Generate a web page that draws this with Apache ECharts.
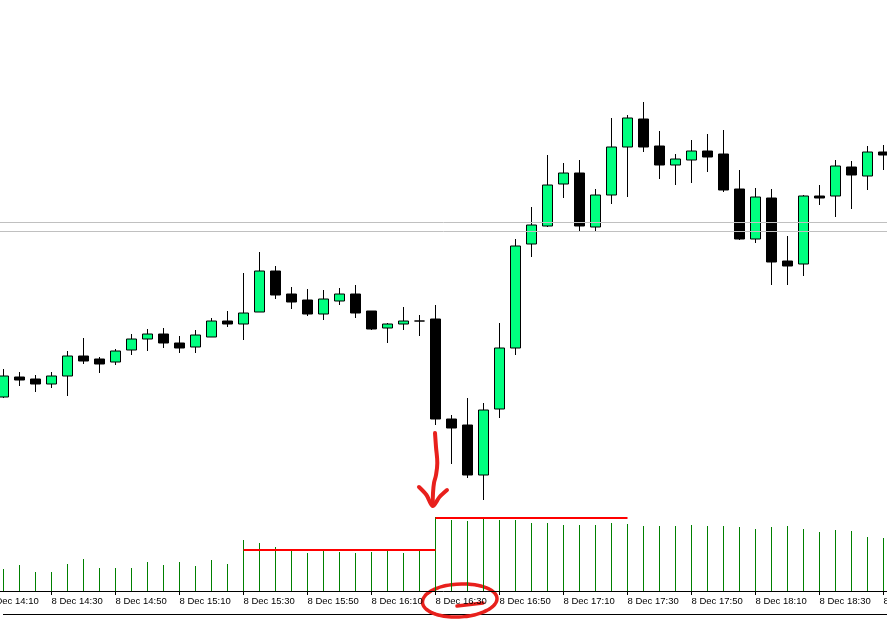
<!DOCTYPE html>
<html><head><meta charset="utf-8">
<script src="https://cdn.jsdelivr.net/npm/echarts@6/dist/echarts.min.js"></script>
<style>html,body{margin:0;padding:0;background:#fff;overflow:hidden}#c{width:887px;height:624px}</style>
</head><body><div id="c"></div>
<script>
// 5-minute bars, 8 Dec (first slot 14:10 is off-screen, no data drawn)
const times = ['14:10','14:15','14:20','14:25','14:30','14:35','14:40','14:45','14:50','14:55',
  '15:00','15:05','15:10','15:15','15:20','15:25','15:30','15:35','15:40','15:45','15:50','15:55',
  '16:00','16:05','16:10','16:15','16:20','16:25','16:30','16:35','16:40','16:45','16:50','16:55',
  '17:00','17:05','17:10','17:15','17:20','17:25','17:30','17:35','17:40','17:45','17:50','17:55',
  '18:00','18:05','18:10','18:15','18:20','18:25','18:30','18:35','18:40','18:45','18:50'];
// prices (arbitrary points, chart shows no price scale), bars 14:15 .. 18:50
const opens  = [103,123,121,116,124,144,141,138,150,161,166,157,153,163,179,176,188,229,206,200,186,199,206,189,172,176,179,181,81,75,25,91,152,256,274,316,327,273,305,353,381,354,335,340,349,346,311,261,302,239,236,304,304,333,324,348];
const closes = [124,120,116,124,144,139,136,149,161,166,157,152,165,179,176,187,229,205,198,186,201,206,187,171,176,179,179,81,72,25,90,152,254,275,315,327,274,305,353,382,353,335,341,349,343,310,261,303,238,234,304,302,334,325,348,345];
const lows   = [102,114,108,112,104,136,127,135,145,149,152,147,147,163,173,160,188,201,191,184,180,195,182,170,157,170,164,75,36,22,0,82,145,243,273,302,269,269,296,303,348,321,315,317,328,308,260,257,215,215,224,295,283,291,310,330];
const highs  = [131,128,125,128,149,162,143,151,166,171,172,164,170,182,189,227,248,234,213,211,210,212,215,189,177,193,185,195,85,102,97,177,261,293,345,337,340,311,382,385,398,369,346,360,366,370,330,312,311,264,305,315,340,339,354,355];
const volumes = [220,260,190,190,270,320,230,230,230,290,260,290,250,310,270,510,480,440,400,380,410,390,380,390,410,380,410,740,710,700,720,710,710,680,680,660,660,660,680,670,650,650,650,660,650,650,640,620,640,650,620,590,610,600,540,530];
// horizontal price levels (grey)
const priceLevels = [277.5, 268.5];
// average volume levels drawn in red: [from, to, value]
const volumeLevels = [['15:30','16:30',410],['16:30','17:30',732]];

const cats = times.map(t => '8 Dec ' + t);
const candleData = ['-'].concat(opens.map((o,i) => [o, closes[i], lows[i], highs[i]]));
const volData = ['-'].concat(volumes);

const chart = echarts.init(document.getElementById('c'), null, {renderer:'canvas'});
const font = 'Liberation Sans';
const option = {
  animation: false,
  backgroundColor: '#ffffff',
  textStyle: {fontFamily: font},
  grid: [
    {left: -20.5, width: 912, top: 0, height: 520, containLabel:false, outerBoundsMode:'none'},
    {left: -20.5, width: 912, top: 491, height: 100, containLabel:false, outerBoundsMode:'none'}
  ],
  xAxis: [
    {type:'category', gridIndex:0, data: cats, show:false, boundaryGap:true},
    {type:'category', gridIndex:1, data: cats, boundaryGap:true,
     axisLine:{show:true, lineStyle:{color:'#000', width:1}},
     axisTick:{show:true, interval:3, alignWithLabel:true, length:4, lineStyle:{color:'#000'}},
     axisLabel:{show:true, interval:3, align:'left', margin:5, color:'#000', fontSize:9.5, fontFamily:font, hideOverlap:false},
     splitLine:{show:false}}
  ],
  yAxis: [
    {type:'value', gridIndex:0, min:-20, max:500, show:false, splitLine:{show:false}},
    {type:'value', gridIndex:1, min:0, max:1000, show:false, splitLine:{show:false}}
  ],
  series: [
    {type:'candlestick', xAxisIndex:0, yAxisIndex:0, data: candleData, barWidth:10,
     itemStyle:{color:'#00FF7F', color0:'#000000', borderColor:'#000000', borderColor0:'#000000', borderColorDoji:'#000000', borderWidth:1},
     markLine:{silent:true, symbol:'none', label:{show:false},
       lineStyle:{color:'#c0c0c0', width:1, type:'solid'},
       data: priceLevels.map(v => ({yAxis: v}))}
    },
    {type:'bar', xAxisIndex:1, yAxisIndex:1, data: volData, barWidth:1,
     itemStyle:{color:'#008000'},
     markLine:{silent:true, symbol:'none', label:{show:false},
       lineStyle:{color:'#ff0000', width:2, type:'solid'},
       data: volumeLevels.map(l => [{coord:['8 Dec '+l[0], l[2]]},{coord:['8 Dec '+l[1], l[2]]}])}
    }
  ]
};
chart.setOption(option);

// hand-drawn annotations, anchored on the 16:30 bar
const ax = chart.convertToPixel({xAxisIndex:1}, '8 Dec 16:30');
const baseY = chart.convertToPixel({yAxisIndex:1}, 0);
const lowY = chart.convertToPixel({yAxisIndex:0}, lows[27]);
const red = '#e8201c';
const shaft = [[-0.5,8],[0.5,22],[1.8,38],[0.5,50],[-1.5,58],[-2.5,68],[-2.8,80]].map(p=>[ax+p[0], lowY+p[1]]);
const head = [[-16.5,62],[-9,70],[-2.8,81],[4,72],[11.5,65]].map(p=>[ax+p[0], lowY+p[1]]);
const ell = [];
const ecx = ax + 23.5, ecy = baseY + 9.5;
for (let a = -70; a >= -445; a -= 8) {
  const t = a * Math.PI / 180;
  const rx = 38 + 1.5*Math.sin(t*0.5), ry = 16.5;
  ell.push([ecx + rx*Math.cos(t), ecy + ry*Math.sin(t) - 1.5*Math.cos(t)]);
}
chart.setOption({
  graphic: [
    {type:'line', shape:{x1:3, y1:614.5, x2:887, y2:614.5}, style:{stroke:'#000', lineWidth:1}, silent:true},
    {type:'polyline', shape:{points: shaft, smooth:0.4}, style:{stroke:red, lineWidth:4, lineCap:'round', lineJoin:'round', fill:null}, silent:true},
    {type:'polyline', shape:{points: head, smooth:0.3}, style:{stroke:red, lineWidth:4, lineCap:'round', lineJoin:'round', fill:null}, silent:true},
    {type:'polyline', shape:{points: ell, smooth:0.5}, style:{stroke:red, lineWidth:3.5, lineCap:'round', lineJoin:'round', fill:null}, silent:true},
    {type:'line', shape:{x1:ax+21.5, y1:baseY+15, x2:ax+47.5, y2:baseY+12}, style:{stroke:red, lineWidth:3.5, lineCap:'round'}, silent:true}
  ]
});
</script></body></html>
